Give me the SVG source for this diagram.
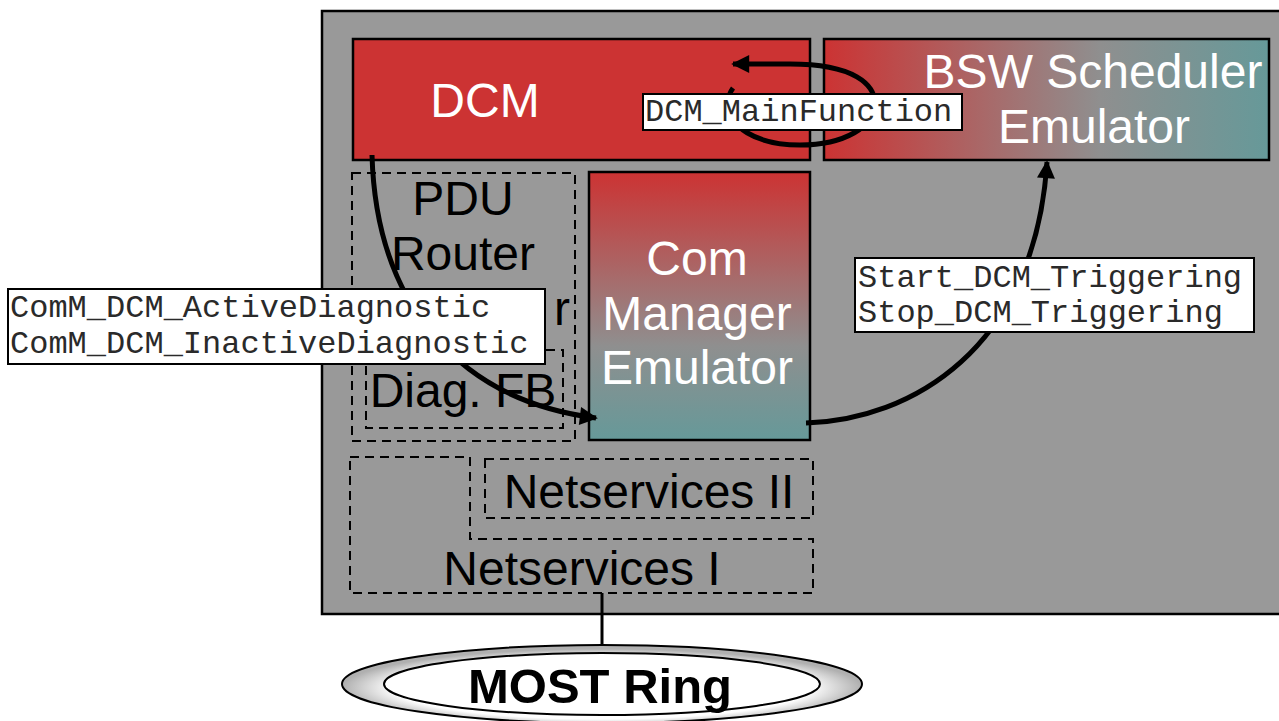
<svg xmlns="http://www.w3.org/2000/svg" width="1279" height="721" viewBox="0 0 1279 721">
<style>
.box{stroke:#000;stroke-width:2.5}
.dash{fill:none;stroke:#000;stroke-width:2;stroke-dasharray:9,6}
.wt{font-family:"Liberation Sans",Arial,sans-serif;font-size:48px;fill:#fff;text-anchor:middle}
.bt{font-family:"Liberation Sans",Arial,sans-serif;font-size:48px;fill:#000;text-anchor:middle}
.mono{font-family:"Liberation Mono","Courier New",monospace;font-size:32px;fill:#2a2a2a}
.lbl{fill:#fff;stroke:#000;stroke-width:2}
.conn{fill:none;stroke:#000;stroke-width:5}
</style>
<defs>
<linearGradient id="gh" x1="0" y1="0" x2="1" y2="0">
<stop offset="0" stop-color="#cc3333"/>
<stop offset="0.62" stop-color="#8f8f8f"/>
<stop offset="1" stop-color="#669999"/>
</linearGradient>
<linearGradient id="gv" x1="0" y1="0" x2="0" y2="1">
<stop offset="0" stop-color="#cc3333"/>
<stop offset="0.65" stop-color="#8f8f8f"/>
<stop offset="1" stop-color="#669999"/>
</linearGradient>
<radialGradient id="ring" cx="0.5" cy="0.55" r="0.5">
<stop offset="0.8" stop-color="#ffffff"/>
<stop offset="1" stop-color="#b0b0b0"/>
</radialGradient>
<marker id="ah" viewBox="0 0 10 10" refX="9" refY="5" markerWidth="22" markerHeight="18" markerUnits="userSpaceOnUse" orient="auto-start-reverse">
<path d="M0,0 L10,5 L0,10 z" fill="#000"/>
</marker>
</defs>

<g id="ecu">
<rect x="322" y="11" width="970" height="603" fill="#999999" stroke="#000" stroke-width="2.5"/>
</g>

<g id="dcm">
<rect class="box" x="353" y="39" width="457" height="121" fill="#cc3333"/>
<text class="wt" x="485" y="117">DCM</text>
</g>

<g id="bsw">
<rect class="box" x="824" y="39" width="445" height="121" fill="url(#gh)"/>
<text class="wt" x="1093" y="88">BSW Scheduler</text>
<text class="wt" x="1094" y="143">Emulator</text>
</g>

<g id="pdu">
<rect class="dash" x="352" y="173" width="223" height="268"/>
<text class="bt" x="463" y="215">PDU</text>
<text class="bt" x="463" y="270">Router</text>
<text class="bt" x="570" y="325" style="text-anchor:end">r</text>
</g>

<g id="diagfb">
<rect class="dash" x="366" y="350" width="197" height="78"/>
<text class="bt" x="463" y="407">Diag. FB</text>
</g>

<g id="comm">
<rect class="box" x="589" y="172" width="221" height="268" fill="url(#gv)"/>
<text class="wt" x="697" y="275">Com</text>
<text class="wt" x="697" y="330">Manager</text>
<text class="wt" x="697" y="384">Emulator</text>
</g>

<g id="net2">
<rect class="dash" x="485" y="459" width="328" height="59"/>
<text class="bt" x="649" y="508">Netservices II</text>
</g>

<g id="net1">
<path class="dash" d="M350,457 L470,457 L470,539 L813,539 L813,593 L350,593 Z"/>
<text class="bt" x="582" y="585">Netservices I</text>
</g>

<g id="most">
<ellipse cx="602" cy="684" rx="260" ry="39" fill="url(#ring)" stroke="#000" stroke-width="2"/>
<ellipse cx="602" cy="684" rx="218" ry="31" fill="#fff" stroke="#000" stroke-width="2"/>
<text x="600" y="703" style="font-family:'Liberation Sans',Arial,sans-serif;font-size:49px;font-weight:bold;fill:#000;text-anchor:middle">MOST Ring</text>
</g>

<g id="connectors">
<line x1="602" y1="593" x2="602" y2="645" stroke="#000" stroke-width="3"/>
<path class="conn" d="M372,155 C376,300 455,400 596,418" marker-end="url(#ah)"/>
<path class="conn" d="M806,423 C910,420 1035,350 1047,162" marker-end="url(#ah)"/>
<path class="conn" d="M733,64 L790,64 C855,64 875,85 875,104 C875,126 845,145 800,145 C755,145 728,126 728,104 C728,97 730,92 733,88" marker-start="url(#ah)"/>
</g>

<g id="label-main">
<rect class="lbl" x="643" y="94" width="319" height="36"/>
<text class="mono" x="645" y="121">DCM_MainFunction</text>
</g>

<g id="label-comm">
<rect class="lbl" x="8" y="289" width="537" height="75"/>
<text class="mono" x="10" y="317">ComM_DCM_ActiveDiagnostic</text>
<text class="mono" x="10" y="353">ComM_DCM_InactiveDiagnostic</text>
</g>

<g id="label-trig">
<rect class="lbl" x="855" y="258" width="399" height="74"/>
<text class="mono" x="858" y="287">Start_DCM_Triggering</text>
<text class="mono" x="858" y="322">Stop_DCM_Triggering</text>
</g>
</svg>
